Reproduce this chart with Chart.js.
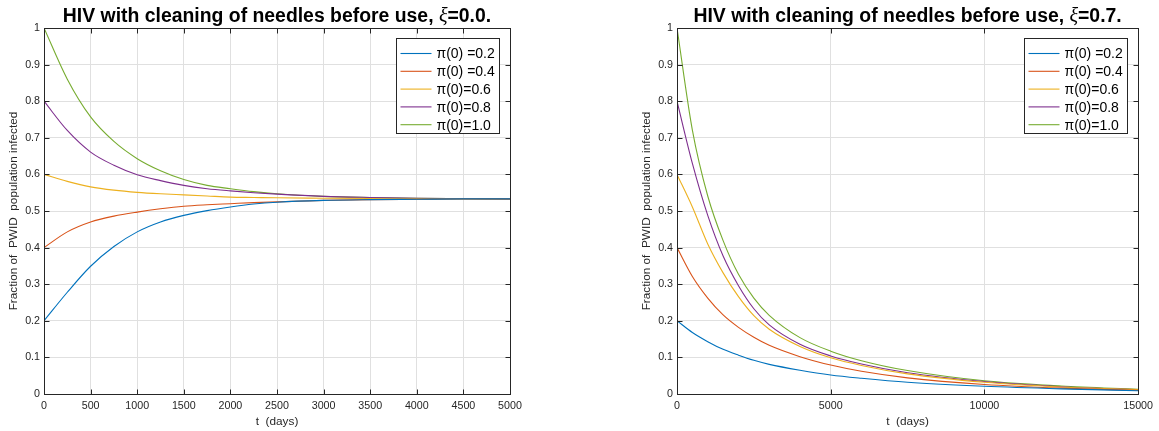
<!DOCTYPE html>
<html>
<head>
<meta charset="utf-8">
<script src="https://cdn.jsdelivr.net/npm/chart.js@4.4.0/dist/chart.umd.min.js"></script>
<style>
  body { margin: 0; background: #fff; }
  #wrap { position: relative; width: 1159px; height: 431px; }
  canvas { position: absolute; top: 0; }
</style>
</head>
<body>
<div id="wrap">
  <canvas id="left-chart" width="580" height="431" style="left:0"></canvas>
  <canvas id="right-chart" width="579" height="431" style="left:580px"></canvas>
</div>
<script>
// legend labels and MATLAB default line colours
const seriesLabels = ['\u03c0(0) =0.2', '\u03c0(0) =0.4', '\u03c0(0)=0.6', '\u03c0(0)=0.8', '\u03c0(0)=1.0'];
const seriesColors = ['#0072BD', '#D95319', '#EDB120', '#7E2F8E', '#77AC30'];

// xi = 0.0 (left panel)
const tLeft = [0, 250, 500, 750, 1000, 1250, 1500, 1750, 2000, 2250, 2500, 3000, 3500, 4000, 4500, 5000];
const left02 = [0.200, 0.278, 0.349, 0.403, 0.443, 0.470, 0.488, 0.501, 0.511, 0.519, 0.524, 0.529, 0.531, 0.532, 0.533, 0.533];
const left04 = [0.400, 0.443, 0.470, 0.486, 0.497, 0.506, 0.513, 0.517, 0.520, 0.523, 0.525, 0.529, 0.531, 0.532, 0.533, 0.533];
const left06 = [0.600, 0.581, 0.566, 0.557, 0.551, 0.547, 0.544, 0.541, 0.538, 0.537, 0.536, 0.535, 0.534, 0.533, 0.533, 0.533];
const left08 = [0.800, 0.720, 0.661, 0.625, 0.599, 0.583, 0.570, 0.561, 0.555, 0.550, 0.546, 0.540, 0.537, 0.535, 0.534, 0.533];
const left10 = [1.000, 0.860, 0.757, 0.690, 0.643, 0.610, 0.586, 0.570, 0.561, 0.553, 0.547, 0.540, 0.537, 0.535, 0.534, 0.533];

// xi = 0.7 (right panel)
const tRight = [0, 500, 1000, 1500, 2000, 2500, 3000, 4000, 5000, 6000, 7500, 10000, 12500, 15000];
const right02 = [0.200, 0.168, 0.143, 0.122, 0.106, 0.092, 0.081, 0.065, 0.052, 0.043, 0.032, 0.021, 0.014, 0.009];
const right04 = [0.400, 0.321, 0.262, 0.216, 0.182, 0.155, 0.133, 0.102, 0.079, 0.062, 0.044, 0.026, 0.016, 0.010];
const right06 = [0.600, 0.511, 0.410, 0.331, 0.266, 0.214, 0.177, 0.130, 0.099, 0.078, 0.055, 0.032, 0.019, 0.012];
const right08 = [0.800, 0.630, 0.488, 0.377, 0.296, 0.233, 0.189, 0.136, 0.104, 0.082, 0.058, 0.034, 0.020, 0.012];
const right10 = [1.000, 0.721, 0.541, 0.419, 0.327, 0.262, 0.215, 0.154, 0.117, 0.091, 0.064, 0.036, 0.022, 0.013];

const yTicks = [0, 0.1, 0.2, 0.3, 0.4, 0.5, 0.6, 0.7, 0.8, 0.9, 1];
const xTicksLeft = [0, 500, 1000, 1500, 2000, 2500, 3000, 3500, 4000, 4500, 5000];
const xTicksRight = [0, 5000, 10000, 15000];

const SANS = "'Liberation Sans', Arial, Helvetica, sans-serif";
const AXIS_COLOR = '#262626';

function makeDatasets(t, series) {
    return series.map((vals, i) => ({
        label: seriesLabels[i],
        data: vals.map((v, k) => ({ x: t[k], y: v })),
        borderColor: seriesColors[i],
        borderWidth: 1.1,
        pointRadius: 0,
        fill: false,
        cubicInterpolationMode: 'monotone'
    }));
}

// draws the MATLAB-style box, inward ticks, title, axis labels and legend
const matlabFrame = {
    id: 'matlabFrame',
    afterDatasetsDraw(chart, args, opts) {
        const ctx = chart.ctx;
        const a = chart.chartArea;
        const xs = chart.scales.x;
        const ys = chart.scales.y;
        const L = Math.round(a.left) + 0.5, R = Math.round(a.right) + 0.5;
        const T = Math.round(a.top) + 0.5, B = Math.round(a.bottom) + 0.5;
        ctx.save();
        ctx.strokeStyle = AXIS_COLOR;
        ctx.lineWidth = 1;
        ctx.beginPath();
        yTicks.forEach(v => {
            const py = Math.round(ys.getPixelForValue(v)) + 0.5;
            ctx.moveTo(L, py); ctx.lineTo(L + 5, py);
            ctx.moveTo(R, py); ctx.lineTo(R - 5, py);
        });
        opts.xTicks.forEach(v => {
            const px = Math.round(xs.getPixelForValue(v)) + 0.5;
            ctx.moveTo(px, B); ctx.lineTo(px, B - 5);
            ctx.moveTo(px, T); ctx.lineTo(px, T + 5);
        });
        ctx.stroke();
        ctx.strokeRect(L, T, R - L, B - T);

        // title: bold text with italic xi
        const cx = (a.left + a.right) / 2;
        const p1 = 'HIV with cleaning of needles before use, ';
        const p2 = '\u03be';
        const p3 = '=' + opts.xi + '.';
        const boldFont = 'bold 19.4px ' + SANS;
        const xiFont = 'italic 20px "Liberation Serif", "DejaVu Serif", serif';
        ctx.font = boldFont;
        const w1 = ctx.measureText(p1).width, w3 = ctx.measureText(p3).width;
        ctx.font = xiFont;
        const w2 = ctx.measureText(p2).width;
        let tx = cx - (w1 + w2 + w3) / 2;
        const ty = 22;
        ctx.fillStyle = '#000';
        ctx.textBaseline = 'alphabetic';
        ctx.textAlign = 'left';
        ctx.font = boldFont; ctx.fillText(p1, tx, ty); tx += w1;
        ctx.font = xiFont; ctx.fillText(p2, tx, ty); tx += w2;
        ctx.font = boldFont; ctx.fillText(p3, tx, ty);

        // axis labels
        ctx.fillStyle = AXIS_COLOR;
        ctx.font = '11.8px ' + SANS;
        ctx.textAlign = 'center';
        ctx.textBaseline = 'middle';
        ctx.fillText('t  (days)', cx, 422);
        ctx.save();
        ctx.translate(a.left - 30, (a.top + a.bottom) / 2);
        ctx.rotate(-Math.PI / 2);
        ctx.fillText('Fraction of  PWID  population infected', 0, 0);
        ctx.restore();

        // legend box
        const bw = 103, bh = 95;
        const bx = Math.round(a.right - 114) + 0.5, by = Math.round(a.top + 10) + 0.5;
        ctx.fillStyle = '#fff';
        ctx.fillRect(bx, by, bw, bh);
        ctx.strokeStyle = AXIS_COLOR;
        ctx.strokeRect(bx, by, bw, bh);
        ctx.font = '14px ' + SANS;
        ctx.textAlign = 'left';
        ctx.textBaseline = 'middle';
        chart.data.datasets.forEach((ds, i) => {
            const ry = by + 15 + i * 17.8;
            ctx.strokeStyle = ds.borderColor;
            ctx.lineWidth = 1.1;
            ctx.beginPath();
            ctx.moveTo(bx + 4, ry); ctx.lineTo(bx + 35, ry);
            ctx.stroke();
            ctx.fillStyle = '#000';
            ctx.fillText(ds.label, bx + 40, ry + 1);
        });
        ctx.restore();
    }
};

function buildChart(canvasId, t, series, xMax, xStep, xTicks, xi, yWidth, padRight) {
    return new Chart(document.getElementById(canvasId), {
        type: 'line',
        data: { datasets: makeDatasets(t, series) },
        plugins: [matlabFrame],
        options: {
            responsive: false,
            animation: false,
            devicePixelRatio: 1,
            layout: { padding: { left: 0, right: padRight, top: 28, bottom: 0 } },
            plugins: {
                legend: { display: false },
                tooltip: { enabled: false },
                matlabFrame: { xTicks: xTicks, xi: xi }
            },
            scales: {
                x: {
                    type: 'linear',
                    min: 0,
                    max: xMax,
                    afterFit: s => { s.height = 37; },
                    ticks: {
                        stepSize: xStep,
                        color: AXIS_COLOR,
                        font: { family: SANS, size: 10.7 },
                        padding: 6,
                        maxRotation: 0,
                        callback: v => String(v)
                    },
                    grid: { color: '#e0e0e0', drawTicks: false },
                    border: { display: false }
                },
                y: {
                    min: 0,
                    max: 1,
                    afterFit: s => { s.width = yWidth; },
                    ticks: {
                        stepSize: 0.1,
                        color: AXIS_COLOR,
                        font: { family: SANS, size: 10.7 },
                        padding: 4,
                        callback: v => String(Math.round(v * 10) / 10)
                    },
                    grid: { color: '#e0e0e0', drawTicks: false },
                    border: { display: false }
                }
            }
        }
    });
}

buildChart('left-chart', tLeft, [left02, left04, left06, left08, left10], 5000, 500, xTicksLeft, '0.0', 44, 70);
buildChart('right-chart', tRight, [right02, right04, right06, right08, right10], 15000, 5000, xTicksRight, '0.7', 97, 17);
</script>
</body>
</html>
